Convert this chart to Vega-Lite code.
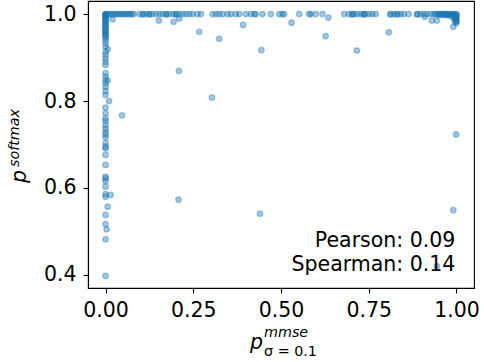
{
  "$schema": "https://vega.github.io/schema/vega-lite/v6.json",
  "width": 386,
  "height": 287,
  "autosize": {"type": "none"},
  "padding": {"left": 88, "top": 1, "right": 10, "bottom": 74},
  "background": "white",
  "config": {
    "font": "DejaVu Sans",
    "view": {"stroke": "black", "strokeWidth": 1.1},
    "axis": {
      "grid": false,
      "labelFont": "DejaVu Sans",
      "labelFontSize": 20.5,
      "labelColor": "black",
      "tickColor": "black",
      "domainColor": "black",
      "tickSize": 5,
      "tickWidth": 1.1,
      "domainWidth": 1.1,
      "labelPadding": 7
    }
  },
  "layer": [
    {
      "data": {
        "values": [
          {"x": 0, "y": 1.0}, {"x": 0, "y": 0.999}, {"x": 0, "y": 0.998}, {"x": 0, "y": 0.997}, {"x": 0, "y": 0.995},
          {"x": 0, "y": 0.993}, {"x": 0, "y": 0.99}, {"x": 0, "y": 0.988}, {"x": 0, "y": 0.985}, {"x": 0, "y": 0.982},
          {"x": 0, "y": 0.979}, {"x": 0, "y": 0.976}, {"x": 0, "y": 0.973}, {"x": 0, "y": 0.97}, {"x": 0, "y": 0.967},
          {"x": 0, "y": 0.964}, {"x": 0, "y": 0.961}, {"x": 0, "y": 0.958}, {"x": 0, "y": 0.955}, {"x": 0, "y": 0.952},
          {"x": 0, "y": 0.949}, {"x": 0, "y": 0.946}, {"x": 0, "y": 0.94}, {"x": 0, "y": 0.933}, {"x": 0, "y": 0.925},
          {"x": 0, "y": 0.913}, {"x": 0, "y": 0.906}, {"x": 0, "y": 0.898}, {"x": 0, "y": 0.89}, {"x": 0, "y": 0.883},
          {"x": 0, "y": 0.864}, {"x": 0, "y": 0.856}, {"x": 0, "y": 0.848}, {"x": 0, "y": 0.841}, {"x": 0, "y": 0.833},
          {"x": 0, "y": 0.823}, {"x": 0, "y": 0.814}, {"x": 0, "y": 0.785}, {"x": 0, "y": 0.772}, {"x": 0, "y": 0.76},
          {"x": 0, "y": 0.754}, {"x": 0, "y": 0.745}, {"x": 0, "y": 0.737}, {"x": 0, "y": 0.729}, {"x": 0, "y": 0.723},
          {"x": 0, "y": 0.716}, {"x": 0, "y": 0.703}, {"x": 0, "y": 0.695}, {"x": 0, "y": 0.691}, {"x": 0, "y": 0.676},
          {"x": 0, "y": 0.653}, {"x": 0, "y": 0.626}, {"x": 0, "y": 0.622}, {"x": 0, "y": 0.616}, {"x": 0, "y": 0.603},
          {"x": 0, "y": 0.586}, {"x": 0, "y": 0.58}, {"x": 0, "y": 0.538}, {"x": 0, "y": 0.517}, {"x": 0, "y": 0.482},
          {"x": 0, "y": 0.398},
          {"x": 0.006, "y": 0.919}, {"x": 0.006, "y": 0.847}, {"x": 0.01, "y": 0.8}, {"x": 0.014, "y": 0.584},
          {"x": 0.006, "y": 0.557}, {"x": 0.003, "y": 0.505}, {"x": 0.047, "y": 0.767}, {"x": 0.02, "y": 0.988},
          {"x": 0.005, "y": 1.0}, {"x": 0.01, "y": 1.0}, {"x": 0.015, "y": 1.0}, {"x": 0.02, "y": 1.0}, {"x": 0.025, "y": 1.0},
          {"x": 0.03, "y": 1.0}, {"x": 0.035, "y": 1.0}, {"x": 0.04, "y": 1.0}, {"x": 0.045, "y": 1.0}, {"x": 0.05, "y": 1.0},
          {"x": 0.055, "y": 1.0}, {"x": 0.06, "y": 1.0}, {"x": 0.065, "y": 1.0}, {"x": 0.07, "y": 1.0}, {"x": 0.075, "y": 1.0},
          {"x": 0.08, "y": 1.0}, {"x": 0.097, "y": 1.0}, {"x": 0.106, "y": 1.0}, {"x": 0.106, "y": 0.999}, {"x": 0.116, "y": 1.0},
          {"x": 0.125, "y": 1.0}, {"x": 0.125, "y": 0.999}, {"x": 0.134, "y": 1.0}, {"x": 0.144, "y": 1.0}, {"x": 0.154, "y": 1.0},
          {"x": 0.163, "y": 1.0}, {"x": 0.173, "y": 1.0}, {"x": 0.173, "y": 0.999}, {"x": 0.182, "y": 1.0}, {"x": 0.192, "y": 1.0},
          {"x": 0.201, "y": 1.0}, {"x": 0.201, "y": 0.999}, {"x": 0.21, "y": 1.0}, {"x": 0.22, "y": 1.0}, {"x": 0.229, "y": 1.0},
          {"x": 0.239, "y": 1.0}, {"x": 0.248, "y": 1.0}, {"x": 0.262, "y": 1.0}, {"x": 0.272, "y": 1.0}, {"x": 0.305, "y": 1.0},
          {"x": 0.315, "y": 1.0}, {"x": 0.324, "y": 1.0}, {"x": 0.334, "y": 1.0}, {"x": 0.348, "y": 1.0}, {"x": 0.357, "y": 1.0},
          {"x": 0.371, "y": 1.0}, {"x": 0.381, "y": 1.0}, {"x": 0.4, "y": 1.0}, {"x": 0.414, "y": 1.0}, {"x": 0.424, "y": 1.0},
          {"x": 0.428, "y": 1.0}, {"x": 0.447, "y": 1.0}, {"x": 0.471, "y": 1.0}, {"x": 0.495, "y": 1.0}, {"x": 0.504, "y": 1.0},
          {"x": 0.509, "y": 1.0}, {"x": 0.552, "y": 1.0}, {"x": 0.58, "y": 1.0}, {"x": 0.585, "y": 1.0}, {"x": 0.599, "y": 1.0},
          {"x": 0.618, "y": 1.0}, {"x": 0.68, "y": 1.0}, {"x": 0.694, "y": 1.0}, {"x": 0.703, "y": 1.0}, {"x": 0.703, "y": 0.999},
          {"x": 0.708, "y": 1.0}, {"x": 0.717, "y": 1.0}, {"x": 0.727, "y": 1.0}, {"x": 0.736, "y": 1.0}, {"x": 0.736, "y": 0.999},
          {"x": 0.741, "y": 1.0}, {"x": 0.751, "y": 1.0}, {"x": 0.76, "y": 1.0}, {"x": 0.77, "y": 1.0}, {"x": 0.812, "y": 1.0},
          {"x": 0.812, "y": 0.999}, {"x": 0.822, "y": 1.0}, {"x": 0.831, "y": 1.0}, {"x": 0.831, "y": 0.999}, {"x": 0.841, "y": 1.0},
          {"x": 0.85, "y": 1.0}, {"x": 0.864, "y": 1.0}, {"x": 0.888, "y": 1.0}, {"x": 0.888, "y": 0.999}, {"x": 0.898, "y": 1.0},
          {"x": 0.907, "y": 1.0}, {"x": 0.916, "y": 1.0}, {"x": 0.926, "y": 1.0}, {"x": 0.935, "y": 1.0}, {"x": 0.94, "y": 1.0},
          {"x": 0.945, "y": 1.0}, {"x": 0.95, "y": 1.0}, {"x": 0.955, "y": 1.0}, {"x": 0.96, "y": 1.0}, {"x": 0.965, "y": 1.0},
          {"x": 0.97, "y": 1.0}, {"x": 0.975, "y": 1.0}, {"x": 0.98, "y": 1.0}, {"x": 0.985, "y": 1.0}, {"x": 0.99, "y": 1.0},
          {"x": 0.995, "y": 1.0}, {"x": 1.0, "y": 1.0},
          {"x": 0.99, "y": 0.998}, {"x": 0.995, "y": 0.996}, {"x": 1.0, "y": 0.995}, {"x": 0.998, "y": 0.993}, {"x": 1.0, "y": 0.99},
          {"x": 0.997, "y": 0.988}, {"x": 1.0, "y": 0.985}, {"x": 0.993, "y": 0.99}, {"x": 0.985, "y": 0.995}, {"x": 0.975, "y": 0.997},
          {"x": 0.965, "y": 0.998}, {"x": 0.955, "y": 0.999}, {"x": 0.999, "y": 0.979}, {"x": 0.996, "y": 0.983}, {"x": 0.98, "y": 0.999},
          {"x": 1.0, "y": 0.998}, {"x": 0.97, "y": 0.999}, {"x": 0.95, "y": 0.998},
          {"x": 0.152, "y": 0.985}, {"x": 0.194, "y": 0.982}, {"x": 0.21, "y": 0.99}, {"x": 0.267, "y": 0.959}, {"x": 0.324, "y": 0.943},
          {"x": 0.392, "y": 0.975}, {"x": 0.444, "y": 0.917}, {"x": 0.209, "y": 0.869}, {"x": 0.303, "y": 0.808}, {"x": 0.53, "y": 0.98},
          {"x": 0.635, "y": 0.992}, {"x": 0.627, "y": 0.949}, {"x": 0.716, "y": 0.916}, {"x": 0.807, "y": 0.958}, {"x": 0.91, "y": 0.994},
          {"x": 0.93, "y": 0.985}, {"x": 0.944, "y": 0.985}, {"x": 0.991, "y": 0.971}, {"x": 1.0, "y": 0.982}, {"x": 0.999, "y": 0.723},
          {"x": 0.208, "y": 0.573}, {"x": 0.44, "y": 0.541}, {"x": 0.991, "y": 0.549}, {"x": 0.944, "y": 0.42}
        ]
      },
      "mark": {"type": "circle", "size": 30, "color": "#1f77b4", "fillOpacity": 0.4, "stroke": "#1f77b4", "strokeOpacity": 0.4, "strokeWidth": 1.3},
      "encoding": {
        "x": {"field": "x", "type": "quantitative", "scale": {"domain": [-0.05, 1.05], "nice": false, "zero": false},
              "axis": {"title": null, "values": [0, 0.25, 0.5, 0.75, 1.0], "format": ".2f"}},
        "y": {"field": "y", "type": "quantitative", "scale": {"domain": [0.37, 1.03], "nice": false, "zero": false},
              "axis": {"title": null, "values": [0.4, 0.6, 0.8, 1.0], "format": ".1f"}}
      }
    },
    {
      "data": {"values": [{}]},
      "mark": {"type": "text", "text": "Pearson: 0.09", "align": "right", "baseline": "alphabetic", "fontSize": 20.5, "color": "black"},
      "encoding": {"x": {"datum": 0.997, "type": "quantitative"}, "y": {"datum": 0.465, "type": "quantitative"}}
    },
    {
      "data": {"values": [{}]},
      "mark": {"type": "text", "text": "Spearman: 0.14", "align": "right", "baseline": "alphabetic", "fontSize": 20.5, "color": "black"},
      "encoding": {"x": {"datum": 0.997, "type": "quantitative"}, "y": {"datum": 0.41, "type": "quantitative"}}
    },
    {
      "data": {"values": [{}]},
      "mark": {"type": "text", "text": "p", "align": "left", "baseline": "alphabetic", "fontSize": 20.5, "fontStyle": "italic", "color": "black"},
      "encoding": {"x": {"datum": 0.412, "type": "quantitative"}, "y": {"datum": 0.2296, "type": "quantitative"}}
    },
    {
      "data": {"values": [{}]},
      "mark": {"type": "text", "text": "mmse", "align": "left", "baseline": "alphabetic", "fontSize": 14.3, "fontStyle": "italic", "color": "black"},
      "encoding": {"x": {"datum": 0.4517, "type": "quantitative"}, "y": {"datum": 0.2572, "type": "quantitative"}}
    },
    {
      "data": {"values": [{}]},
      "mark": {"type": "text", "text": "σ = 0.1", "align": "left", "baseline": "alphabetic", "fontSize": 14.3, "color": "black"},
      "encoding": {"x": {"datum": 0.4517, "type": "quantitative"}, "y": {"datum": 0.2135, "type": "quantitative"}}
    },
    {
      "data": {"values": [{}]},
      "mark": {"type": "text", "text": "p", "align": "left", "baseline": "alphabetic", "angle": 270, "fontSize": 20.5, "fontStyle": "italic", "color": "black"},
      "encoding": {"x": {"datum": -0.2266, "type": "quantitative"}, "y": {"datum": 0.6114, "type": "quantitative"}}
    },
    {
      "data": {"values": [{}]},
      "mark": {"type": "text", "text": "softmax", "align": "left", "baseline": "alphabetic", "angle": 270, "fontSize": 14.3, "fontStyle": "italic", "color": "black"},
      "encoding": {"x": {"datum": -0.2465, "type": "quantitative"}, "y": {"datum": 0.6482, "type": "quantitative"}}
    }
  ]
}
